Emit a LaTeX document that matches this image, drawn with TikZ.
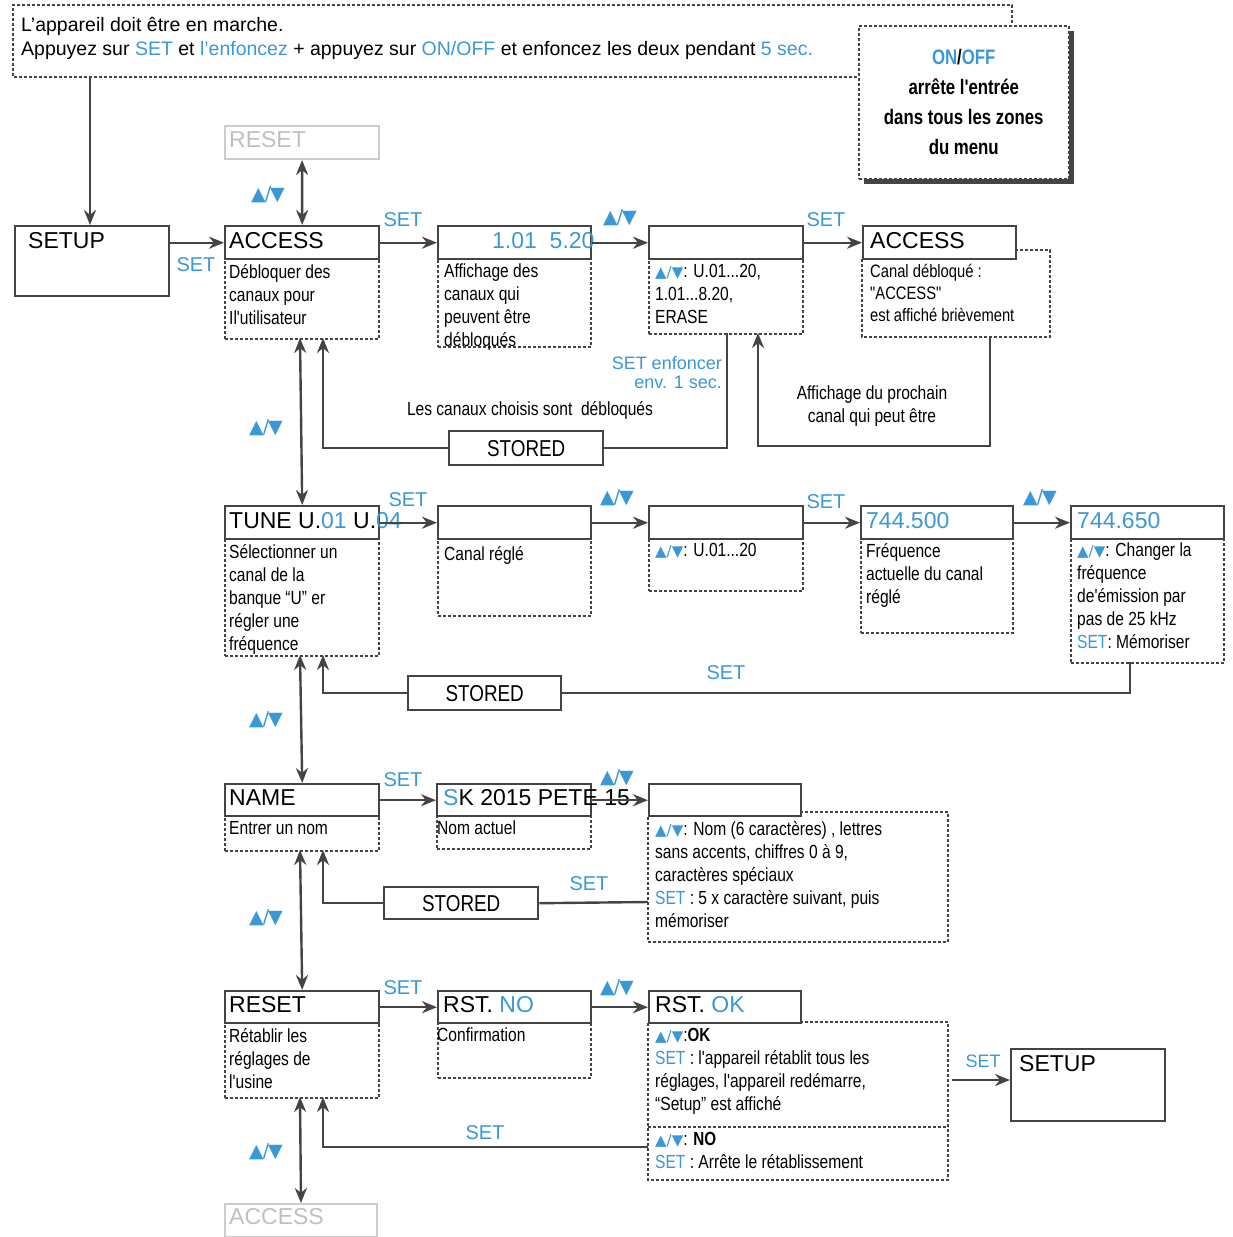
\documentclass[tikz,border=0pt]{standalone}
\usepackage{fontspec}
\setmainfont{Liberation Sans}
\newfontfamily\cond{Liberation Sans}[FakeStretch=0.82]
\newfontfamily\condb{Liberation Sans}[FakeStretch=0.8,BoldFont={Liberation Sans Bold}]
\newfontfamily\sym{DejaVu Sans}
\usetikzlibrary{arrows.meta}
\definecolor{bl}{HTML}{3A98D6}
\definecolor{ln}{HTML}{444444}
\newcommand\ud{{\color{bl}\sym\fontsize{15}{15}\selectfont ▲/▼}}
\newcommand\udb{{\color{bl}\sym\fontsize{19}{19}\selectfont ▲\kern-1pt/\kern-1pt▼}}
\begin{document}
\begin{tikzpicture}[x=1pt,y=-1pt,
  box/.style={draw=ln,line width=2.4pt,anchor=north west,inner sep=0pt},
  gbox/.style={draw=black!20,line width=2pt,anchor=north west,inner sep=0pt},
  dbox/.style={draw=ln,dashed,dash pattern=on 3pt off 2pt,line width=1.5pt,anchor=north west,inner sep=0pt},
  lab/.style={anchor=north west,inner sep=0pt,font=\fontsize{23}{23}\selectfont},
  dtx/.style={anchor=north west,inner sep=0pt,align=left,font=\cond\fontsize{19}{23}\selectfont},
  setl/.style={text=bl,inner sep=0pt,font=\fontsize{20}{20}\selectfont},
  arr/.style={draw=ln,line width=2.4pt,-{Stealth[length=15pt,width=12pt]}},
  darr/.style={draw=ln,line width=2.4pt,{Stealth[length=15pt,width=12pt]}-{Stealth[length=15pt,width=12pt]}},
  con/.style={draw=ln,line width=2.4pt}]
\useasboundingbox (0,0) rectangle (1232,1237);
% top note
\draw[ln,dashed,dash pattern=on 3pt off 2pt,line width=1.5pt] (857,77) -- (13,77) -- (13,5) -- (1012,5) -- (1012,25);
\node[anchor=north west,inner sep=0pt,align=left,font=\fontsize{19.5}{24}\selectfont] (note) at (21,17)
 {L'appareil doit être en marche.\\Appuyez sur {\color{bl}SET} et {\color{bl}l'enfoncez} + appuyez sur {\color{bl}ON/OFF} et enfoncez les deux pendant {\color{bl}5 sec.}};
\coordinate (ns) at (90,77);
\fill[ln] (864,31) rectangle (1074,184);
\node[dbox,fill=white,minimum width=210pt,minimum height=153pt] (onoff) at (858,25) {};
\node[align=center,font=\condb\bfseries\fontsize{21}{30}\selectfont] (onofft) at (onoff.center) {{\color{bl}ON}/{\color{bl}OFF}\\arrête l'entrée\\dans tous les zones\\du menu};
% row 1
\node[box,minimum width=154pt,minimum height=70pt] (setup) at (14,225) {};
\node[lab] (setupt) at (28,232) {SETUP};
\node[gbox,minimum width=154pt,minimum height=33pt] (rst0) at (224,125) {};
\node[lab,text=black!25] (rst0t) at (229,131) {RESET};
\node[box,minimum width=154pt,minimum height=33pt] (acc) at (224,225) {};
\node[lab] (acct) at (229,232) {ACCESS};
\node[dbox,minimum width=154pt,minimum height=80pt] (accd) at (224,258) {};
\node[dtx] at (229,264) {Débloquer des\\canaux pour\\Il'utilisateur};
\node[box,minimum width=153pt,minimum height=33pt] (b2) at (437,225) {};
\node[lab,text=bl] (b2t) at (492,232) {1.01\ \ 5.20};
\node[dbox,minimum width=153pt,minimum height=88pt] (b2d) at (437,258) {};
\node[dtx] at (444,264) {Affichage des\\canaux qui\\peuvent être\\débloqués};
\node[box,minimum width=154pt,minimum height=33pt] (b3) at (648,225) {};
\node[dbox,minimum width=154pt,minimum height=75pt] (b3d) at (648,258) {};
\node[dtx] at (655,264) {\ud: U.01...20,\\1.01...8.20,\\ERASE};
\node[box,minimum width=153pt,minimum height=33pt] (b4) at (862,225) {};
\node[lab] (b4t) at (870,232) {ACCESS};
\draw[ln,dashed,dash pattern=on 3pt off 2pt,line width=1.5pt] (1015,250) -- (1050,250) -- (1050,337) -- (862,337) -- (862,258);
\coordinate (b4d) at (990,337);
\node[dtx,font=\cond\fontsize{18}{22}\selectfont] at (870,264) {Canal débloqué :\\"ACCESS"\\est affiché brièvement};
\draw[darr] (rst0) -- (acc.north);
\node at (268,195) {\udb};
\draw[arr] (ns) -- (setup.north -| ns);
\draw[arr] (setup.east |- acc) -- (acc.west);
\node[setl] at (196,265) {SET};
\draw[arr] (acc.east) -- (b2.west);
\node[setl] at (403,220) {SET};
\draw[arr] (b2.east) -- (b3.west);
\node at (620,218) {\udb};
\draw[arr] (b3.east) -- (b4.west);
\node[setl] at (826,220) {SET};
\node[box,minimum width=154pt,minimum height=34pt] (st1) at (448,430) {};
\node[lab,font=\cond\fontsize{23}{23}\selectfont] at (st1.center) [anchor=center] {STORED};
\draw[con] (727,333) |- (st1.east);
\draw[arr] (st1.west) -| (323,338);
\node[setl,align=right,anchor=north east,font=\fontsize{18}{19}\selectfont] at (722,356) {SET enfoncer\\env. 1 sec.};
\node[font=\cond\fontsize{19}{19}\selectfont] at (530,410) {Les canaux choisis sont\ \ débloqués};
\draw[arr] (b4d) -- (990,446) -| (758,333);
\node[align=center,font=\cond\fontsize{19}{23}\selectfont] at (872,406) {Affichage du prochain\\canal qui peut être};
% row 2
\node[box,minimum width=154pt,minimum height=33pt] (tune) at (224,505) {};
\node[lab] (tunet) at (229,512) {TUNE U.{\color{bl}01} U.{\color{bl}04}};
\node[dbox,minimum width=154pt,minimum height=117pt] (tuned) at (224,538) {};
\node[dtx] at (229,544) {Sélectionner un\\canal de la\\banque “U” er\\régler une\\fréquence};
\draw[darr] (300,338) -- (tune.north);
\node at (266,428) {\udb};
\node[box,minimum width=153pt,minimum height=33pt] (c2) at (437,505) {};
\node[dbox,minimum width=153pt,minimum height=77pt] (c2d) at (437,538) {};
\node[dtx] at (444,546) {Canal réglé};
\node[box,minimum width=154pt,minimum height=33pt] (c3) at (648,505) {};
\node[dbox,minimum width=154pt,minimum height=52pt] (c3d) at (648,538) {};
\node[dtx] at (655,543) {\ud: U.01...20};
\node[box,minimum width=152pt,minimum height=33pt] (c4) at (860,505) {};
\node[lab,text=bl] at (866,512) {744.500};
\node[dbox,minimum width=152pt,minimum height=94pt] (c4d) at (860,538) {};
\node[dtx] at (866,543) {Fréquence\\actuelle du canal\\réglé};
\node[box,minimum width=153pt,minimum height=33pt] (c5) at (1070,505) {};
\node[lab,text=bl] at (1077,512) {744.650};
\node[dbox,minimum width=153pt,minimum height=124pt] (c5d) at (1070,538) {};
\node[dtx] at (1077,543) {\ud: Changer la\\fréquence\\de'émission par\\pas de 25 kHz\\{\color{bl}SET}: Mémoriser};
\draw[arr] (tune.east) -- (c2.west);
\node[setl] at (408,500) {SET};
\draw[arr] (c2.east) -- (c3.west);
\node at (617,498) {\udb};
\draw[arr] (c3.east) -- (c4.west);
\node[setl] at (826,502) {SET};
\draw[arr] (c4.east) -- (c5.west);
\node at (1040,498) {\udb};
\node[box,minimum width=153pt,minimum height=34pt] (st2) at (407,675) {};
\node[lab,font=\cond\fontsize{23}{23}\selectfont] at (st2.center) [anchor=center] {STORED};
\draw[con] (1130,662) |- (st2.east);
\draw[arr] (st2.west) -| (323,655);
\node[setl] at (726,673) {SET};
% row 3
\node[box,minimum width=154pt,minimum height=32pt] (name) at (224,783) {};
\node[lab] at (229,789) {NAME};
\node[dbox,minimum width=154pt,minimum height=35pt] (named) at (224,815) {};
\node[dtx] at (229,821) {Entrer un nom};
\draw[darr] (300,655) -- (name.north);
\node at (266,720) {\udb};
\node[box,minimum width=154pt,minimum height=32pt] (n2) at (436,783) {};
\node[lab] at (443,789) {{\color{bl}S}K 2015 PETE 15};
\node[dbox,minimum width=154pt,minimum height=33pt] (n2d) at (436,815) {};
\node[dtx] at (437,821) {Nom actuel};
\node[box,minimum width=152pt,minimum height=32pt] (n3) at (648,783) {};
\draw[ln,dashed,dash pattern=on 3pt off 2pt,line width=1.5pt] (800,812) -- (948,812) -- (948,942) -- (648,942) -- (648,815);
\node[dtx] at (655,821) {\ud: Nom (6 caractères) , lettres\\sans accents, chiffres 0 à 9,\\caractères spéciaux\\{\color{bl}SET} : 5 x caractère suivant, puis\\mémoriser};
\draw[arr] (name.east) -- (n2.west);
\node[setl] at (403,780) {SET};
\draw[arr] (n2.east) -- (n3.west);
\node at (617,778) {\udb};
\node[box,minimum width=154pt,minimum height=32pt] (st3) at (383,886) {};
\node[lab,font=\cond\fontsize{23}{23}\selectfont] at (st3.center) [anchor=center] {STORED};
\draw[con] (648,902) -- (st3.east);
\draw[arr] (st3.west) -| (323,850);
\node[setl] at (589,884) {SET};
% row 4
\node[box,minimum width=154pt,minimum height=32pt] (reset) at (224,990) {};
\node[lab] at (229,996) {RESET};
\node[dbox,minimum width=154pt,minimum height=75pt] (resetd) at (224,1022) {};
\node[dtx] at (229,1028) {Rétablir les\\réglages de\\l'usine};
\draw[darr] (300,850) -- (reset.north);
\node at (266,918) {\udb};
\node[box,minimum width=153pt,minimum height=32pt] (r2) at (437,990) {};
\node[lab] at (443,996) {RST. {\color{bl}NO}};
\node[dbox,minimum width=153pt,minimum height=55pt] (r2d) at (437,1022) {};
\node[dtx] at (437,1028) {Confirmation};
\node[box,minimum width=152pt,minimum height=32pt] (r3) at (648,990) {};
\node[lab] at (655,996) {RST. {\color{bl}OK}};
\draw[ln,dashed,dash pattern=on 3pt off 2pt,line width=1.5pt] (800,1022) -- (948,1022) -- (948,1180) -- (648,1180) -- (648,1022);
\draw[ln,dashed,dash pattern=on 3pt off 2pt,line width=1.5pt] (648,1127) -- (948,1127);
\node[dtx] at (655,1028) {\ud:{\condb\bfseries OK}\\{\color{bl}SET} : l'appareil rétablit tous les\\réglages, l'appareil redémarre,\\“Setup” est affiché};
\node[dtx] at (655,1132) {\ud: {\condb\bfseries NO}\\{\color{bl}SET} : Arrête le rétablissement};
\draw[arr] (reset.east) -- (r2.west);
\node[setl] at (403,988) {SET};
\draw[arr] (r2.east) -- (r3.west);
\node at (617,988) {\udb};
\node[box,minimum width=154pt,minimum height=72pt] (setup2) at (1010,1048) {};
\node[lab] at (1019,1055) {SETUP};
\coordinate (okr) at (952,1080);
\draw[arr] (okr) -- (setup2.west |- okr);
\node[setl,font=\fontsize{18}{18}\selectfont] at (983,1061) {SET};
\coordinate (nol) at (648,1147);
\draw[arr] (nol) -| (323,1097);
\node[setl] at (485,1133) {SET};
\node[gbox,minimum width=152pt,minimum height=33pt] (acc2) at (224,1203) {};
\node[lab,text=black!25] at (229,1208) {ACCESS};
\draw[darr] (300,1097) -- (acc2.north);
\node at (266,1152) {\udb};
\end{tikzpicture}
\end{document}
